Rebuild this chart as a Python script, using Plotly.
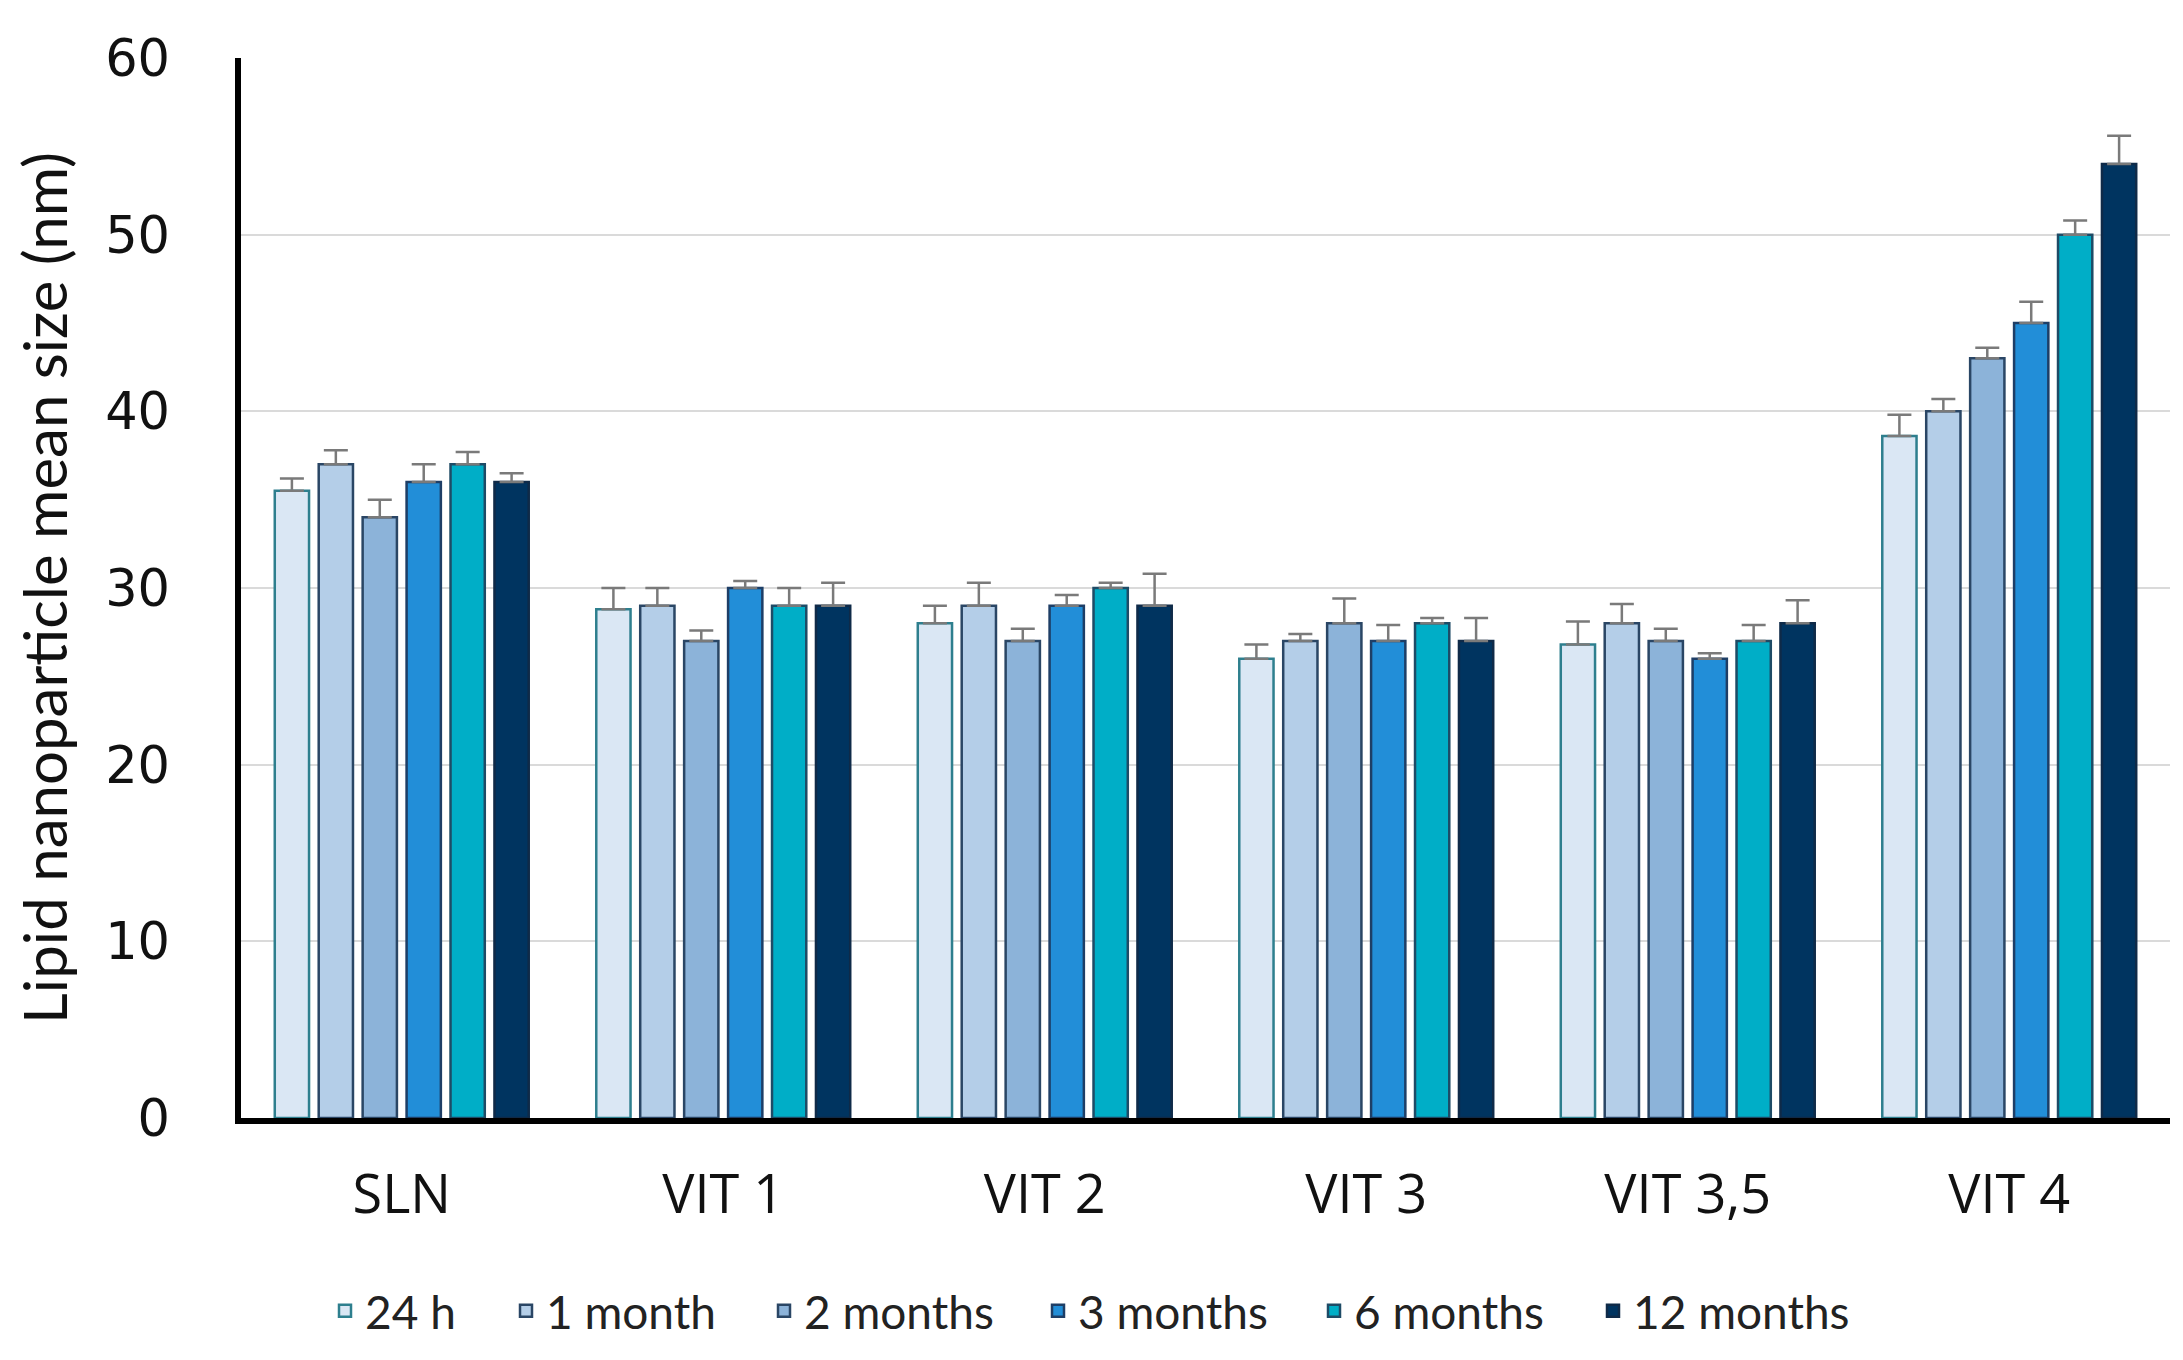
import plotly.graph_objects as go

categories = ["SLN", "VIT 1", "VIT 2", "VIT 3", "VIT 3,5", "VIT 4"]
series_names = ["24 h", "1 month", "2 months", "3 months", "6 months", "12 months"]

v_24h = [35.5, 28.8, 28.0, 26.0, 26.8, 38.6]
v_1m = [37.0, 29.0, 29.0, 27.0, 28.0, 40.0]
v_2m = [34.0, 27.0, 27.0, 28.0, 27.0, 43.0]
v_3m = [36.0, 30.0, 29.0, 27.0, 26.0, 45.0]
v_6m = [37.0, 29.0, 30.0, 28.0, 27.0, 50.0]
v_12m = [36.0, 29.0, 29.0, 27.0, 28.0, 54.0]

e_24h = [0.7, 1.2, 1.0, 0.8, 1.3, 1.2]
e_1m = [0.8, 1.0, 1.3, 0.4, 1.1, 0.7]
e_2m = [1.0, 0.6, 0.7, 1.4, 0.7, 0.6]
e_3m = [1.0, 0.4, 0.6, 0.9, 0.3, 1.2]
e_6m = [0.7, 1.0, 0.3, 0.3, 0.9, 0.8]
e_12m = [0.5, 1.3, 1.8, 1.3, 1.3, 1.6]

y_ticks = [0, 10, 20, 30, 40, 50, 60]

values = [v_24h, v_1m, v_2m, v_3m, v_6m, v_12m]
errors = [e_24h, e_1m, e_2m, e_3m, e_6m, e_12m]
fills = ["#DAE7F4", "#B4CEE8", "#8CB3D9", "#228ED8", "#00AEC7", "#003460"]
outlines = ["#2E7F8E", "#2A4665", "#2A4665", "#1E3E66", "#1E4B66", "#0F2A48"]

# horizontal start (px) of each legend entry along the bottom
legend_x_px = [317, 498, 756, 1030, 1306, 1585]
legend_ids = ["legend", "legend2", "legend3", "legend4", "legend5", "legend6"]

fig = go.Figure()
for name, vals, errs, fc, lc, lid in zip(series_names, values, errors, fills, outlines, legend_ids):
    fig.add_trace(go.Bar(
        x=categories, y=vals, name=name, legend=lid,
        marker=dict(color=fc, line=dict(color=lc, width=2.5)),
        error_y=dict(type="data", array=errs, arrayminus=[0] * len(errs),
                     symmetric=False, color="#7A7A7A", thickness=2.5, width=12),
    ))

W, H = 2183, 1360
legend_font = dict(family="Lato, sans-serif", size=46, color="#222222")
legends = {}
for lid, xp in zip(legend_ids, legend_x_px):
    legends[lid] = dict(orientation="h", xref="container", x=xp / W, xanchor="left",
                        yref="container", y=0.042, yanchor="middle",
                        font=legend_font, bgcolor="rgba(0,0,0,0)", borderwidth=0)

fig.update_layout(
    width=W, height=H,
    paper_bgcolor="white", plot_bgcolor="white",
    barmode="group", bargap=0.18, bargroupgap=0.22,
    margin=dict(l=233, r=21, t=50, b=250),
    showlegend=True,
    xaxis=dict(showline=True, linecolor="black", linewidth=5.5,
               ticks="", showgrid=False,
               tickfont=dict(family="Open Sans, sans-serif", size=54, color="#111111"),
               ticklabelstandoff=24),
    yaxis=dict(range=[0, 60], tickvals=y_ticks, showline=True, linecolor="black",
               linewidth=5.5, ticks="", showgrid=True, gridcolor="#DADADA", gridwidth=2,
               zeroline=False,
               tickfont=dict(family="DejaVu Sans, sans-serif", size=51, color="#111111"),
               ticklabelstandoff=55,
               title=dict(text="Lipid nanoparticle mean size (nm)",
                          font=dict(family="Lato, sans-serif", size=60, color="#111111"),
                          standoff=27)),
    **legends,
)

fig.write_html("out.html")
